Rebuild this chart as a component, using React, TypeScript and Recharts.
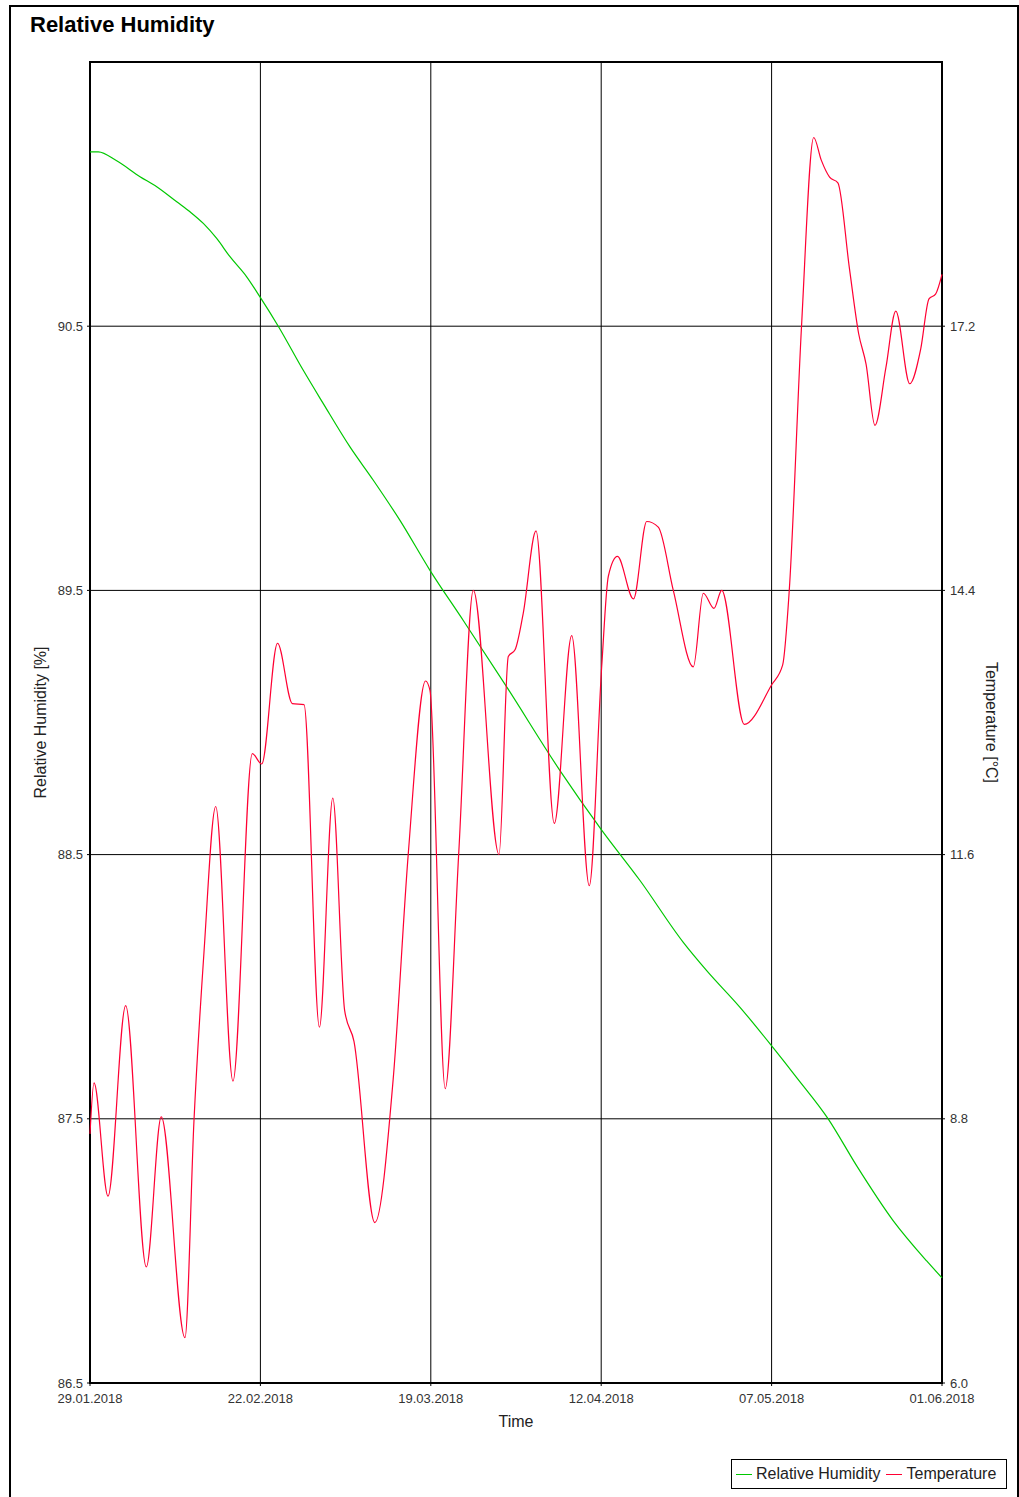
import { LineChart, Line, XAxis, YAxis, CartesianGrid, ReferenceArea } from 'recharts';

// x positions are days since 29.01.2018
const xTicks = [0, 24.6, 49.2, 73.8, 98.4, 123];
const xLabels = ['29.01.2018', '22.02.2018', '19.03.2018', '12.04.2018', '07.05.2018', '01.06.2018'];

const humidityTicks = [86.5, 87.5, 88.5, 89.5, 90.5];
const tempTicks = [6.0, 8.8, 11.6, 14.4, 17.2];

const humidityDays = [0, 1.2, 3.85, 7.22, 9.63, 12.52, 14.44, 16.36, 18.29, 20.21, 22.62, 24.54, 27.18, 30.79, 33.68, 37.53, 40.9, 44.75, 49.08, 53.89, 60.2, 67.85, 73.92, 79.4, 85.65, 89.03, 93.84, 98.5, 102.02, 106.59, 110.69, 115.97, 120.79, 123];
const humidityValues = [91.16, 91.16, 91.126, 91.066, 91.028, 90.971, 90.933, 90.889, 90.832, 90.763, 90.687, 90.611, 90.5, 90.333, 90.207, 90.043, 89.917, 89.765, 89.576, 89.386, 89.133, 88.818, 88.591, 88.402, 88.168, 88.061, 87.922, 87.773, 87.656, 87.499, 87.322, 87.114, 86.962, 86.898];

const tempDays = [0, 0.58, 2.6, 5.15, 8.13, 10.29, 13.71, 15.01, 16.46, 18.15, 20.64, 23.43, 24.79, 27.07, 29.21, 30.9, 33.12, 35.05, 36.76, 38.11, 41.12, 43.77, 45.95, 48.44, 49.08, 51.28, 53.23, 55.34, 59.05, 60.39, 61.36, 62.55, 64.39, 67.03, 69.54, 72.08, 73.87, 74.83, 76.15, 78.46, 80.37, 82.04, 84.21, 87.1, 88.54, 90.08, 91.2, 94.46, 98.41, 100.0, 100.95, 102.72, 104.48, 105.57, 106.77, 107.97, 109.64, 110.97, 112.03, 113.32, 114.9, 116.33, 118.34, 119.93, 121.12, 122.07, 123];
const tempValues = [8.64, 9.18, 7.98, 10.0, 7.23, 8.82, 6.48, 8.78, 10.57, 12.11, 9.2, 12.67, 12.56, 13.84, 13.2, 13.19, 9.77, 12.2, 9.95, 9.62, 7.7, 9.22, 11.61, 13.44, 13.34, 9.12, 11.61, 14.4, 11.6, 13.7, 13.77, 14.16, 15.03, 11.93, 13.92, 11.27, 13.59, 14.55, 14.76, 14.31, 15.13, 15.07, 14.4, 13.59, 14.37, 14.21, 14.4, 12.98, 13.4, 13.61, 14.4, 17.2, 19.2, 18.96, 18.78, 18.72, 17.81, 17.12, 16.8, 16.15, 16.76, 17.36, 16.59, 16.96, 17.49, 17.54, 17.75];

const humidityData = humidityDays.map((day, i) => ({ day, humidity: humidityValues[i] }));
const tempData = tempDays.map((day, i) => ({ day, temperature: tempValues[i] }));

const GREEN = '#00c800';
const RED = '#ff0033';
const FONT = '"Liberation Sans", Arial, sans-serif';
const tickStyle = { fontSize: 13, fill: '#333', fontFamily: FONT };
const labelStyle = { fontSize: 16, fill: '#222', fontFamily: FONT };

export default function App() {
  return (
    <div style={{ position: 'absolute', left: 0, top: 0, width: 1019, height: 1497, overflow: 'hidden', background: '#fff', fontFamily: FONT }}>
      <div style={{ position: 'absolute', left: 9, top: 5, width: 1006, height: 1500, borderTop: '2px solid #000', borderLeft: '2px solid #000', borderRight: '2px solid #000' }} />
      <div style={{ position: 'absolute', left: 30, top: 14, fontSize: 22, lineHeight: '22px', fontWeight: 'bold', color: '#000' }}>
        Relative Humidity
      </div>
      <div style={{ position: 'absolute', left: 0, top: 0 }}>
        <LineChart width={1019} height={1440} margin={{ top: 62, right: 0, left: 8, bottom: 7 }}>
          <CartesianGrid stroke="#000" strokeWidth={1} yAxisId="left" />
          <XAxis
            dataKey="day"
            type="number"
            domain={[0, 123]}
            ticks={xTicks}
            interval={0}
            tickFormatter={(v: number) => xLabels[xTicks.indexOf(v)] ?? ''}
            tick={tickStyle}
            tickSize={3}
            tickMargin={8}
            axisLine={false}
            tickLine={{ stroke: '#000' }}
            height={50}
            label={{ value: 'Time', position: 'insideBottom', offset: 6, style: labelStyle }}
          />
          <YAxis
            yAxisId="left"
            domain={[86.5, 91.5]}
            ticks={humidityTicks}
            interval={0}
            tickFormatter={(v: number) => v.toFixed(1)}
            tick={tickStyle}
            tickSize={3}
            tickMargin={4}
            axisLine={false}
            tickLine={{ stroke: '#000' }}
            width={82}
            label={{ value: 'Relative Humidity [%]', angle: -90, position: 'insideLeft', offset: 32, style: { ...labelStyle, textAnchor: 'middle' } }}
          />
          <YAxis
            yAxisId="right"
            orientation="right"
            domain={[6, 20]}
            ticks={tempTicks}
            interval={0}
            tickFormatter={(v: number) => v.toFixed(1)}
            tick={tickStyle}
            tickSize={3}
            tickMargin={5}
            axisLine={false}
            tickLine={{ stroke: '#000' }}
            width={77}
            label={{ value: 'Temperature [°C]', angle: 90, position: 'insideRight', offset: 27, style: { ...labelStyle, textAnchor: 'middle' } }}
          />
          <ReferenceArea yAxisId="left" x1={0} x2={123} y1={86.5} y2={91.5} fill="none" stroke="#000" strokeWidth={2} ifOverflow="visible" />
          <Line
            yAxisId="left"
            data={humidityData}
            dataKey="humidity"
            type="monotone"
            stroke={GREEN}
            strokeWidth={1.2}
            dot={false}
            isAnimationActive={false}
            name="Relative Humidity"
          />
          <Line
            yAxisId="right"
            data={tempData}
            dataKey="temperature"
            type="monotone"
            stroke={RED}
            strokeWidth={1.2}
            dot={false}
            isAnimationActive={false}
            name="Temperature"
          />
        </LineChart>
      </div>
      <div style={{ position: 'absolute', left: 731, top: 1459, width: 274, height: 28, border: '1px solid #000', display: 'flex', alignItems: 'center', fontSize: 16, color: '#222', whiteSpace: 'nowrap' }}>
        <span style={{ display: 'inline-block', width: 16, height: 0, borderTop: `1px solid ${GREEN}`, marginLeft: 4, marginRight: 4 }} />
        <span>Relative Humidity</span>
        <span style={{ display: 'inline-block', width: 16, height: 0, borderTop: `1px solid ${RED}`, marginLeft: 6, marginRight: 4 }} />
        <span>Temperature</span>
      </div>
    </div>
  );
}
